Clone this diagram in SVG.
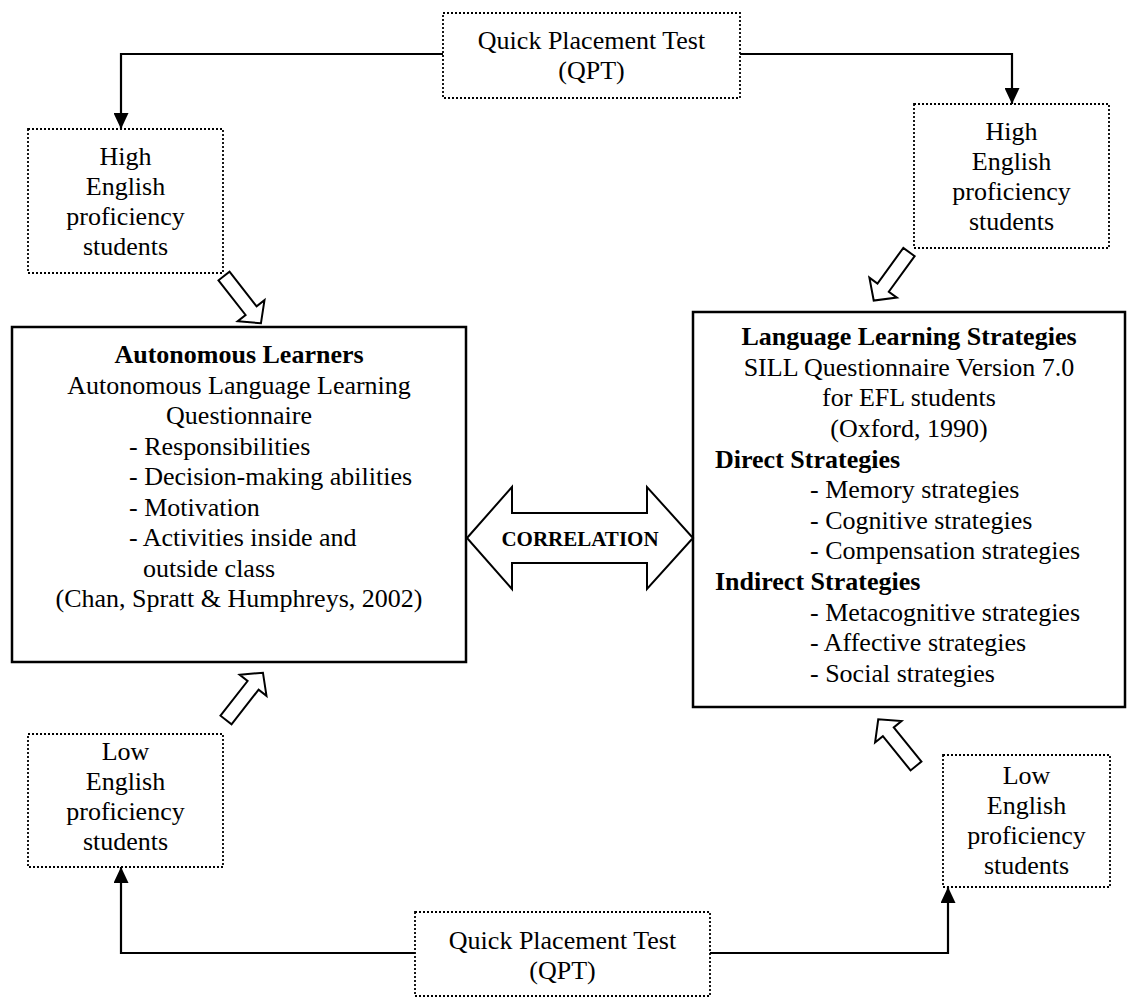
<svg xmlns="http://www.w3.org/2000/svg" width="1127" height="998" viewBox="0 0 1127 998">
<defs>
<style>
text{font-family:"Liberation Serif","Times New Roman",serif;font-size:26px;fill:#000}
.c{text-anchor:middle}
.b{font-weight:bold}
.dot{fill:#fff;stroke:#000;stroke-width:1.8;stroke-dasharray:2 2}
.main{fill:#fff;stroke:#000;stroke-width:2.5}
.conn{fill:none;stroke:#000;stroke-width:2.2}
.blk{fill:#fff;stroke:#000;stroke-width:2;stroke-linejoin:miter}
</style>
<marker id="ah" markerUnits="userSpaceOnUse" markerWidth="16" markerHeight="15" refX="16" refY="7.5" orient="auto">
<path d="M0,0 L16,7.5 L0,15 z" fill="#000"/>
</marker>
<polygon id="barrow" points="0,-7 44,-7 44,-17 60,0 44,17 44,7 0,7"/>
</defs>
<rect width="1127" height="998" fill="#fff"/>

<g id="connectors">
<path class="conn" d="M443,54 H121 V129" marker-end="url(#ah)"/>
<path class="conn" d="M740,54 H1012 V104" marker-end="url(#ah)"/>
<path class="conn" d="M415,953 H121 V867" marker-end="url(#ah)"/>
<path class="conn" d="M710,953 H948 V887" marker-end="url(#ah)"/>
<use href="#barrow" class="blk" transform="translate(224,276) rotate(52)"/>
<use href="#barrow" class="blk" transform="translate(909,252) rotate(126)"/>
<use href="#barrow" class="blk" transform="translate(226,720) rotate(-52)"/>
<use href="#barrow" class="blk" transform="translate(916,766) rotate(231)"/>
</g>

<g id="qpt-top">
<rect class="dot" x="443" y="13" width="297" height="85"/>
<text class="c" x="591.5" y="49">Quick Placement Test</text>
<text class="c" x="591.5" y="79">(QPT)</text>
</g>

<g id="high-left">
<rect class="dot" x="28" y="129" width="195" height="144"/>
<text class="c" x="125.5" y="165">High</text>
<text class="c" x="125.5" y="195">English</text>
<text class="c" x="125.5" y="225">proficiency</text>
<text class="c" x="125.5" y="255">students</text>
</g>

<g id="high-right">
<rect class="dot" x="914" y="104" width="195" height="144"/>
<text class="c" x="1011.5" y="140">High</text>
<text class="c" x="1011.5" y="170">English</text>
<text class="c" x="1011.5" y="200">proficiency</text>
<text class="c" x="1011.5" y="230">students</text>
</g>

<g id="autonomous">
<rect class="main" x="12" y="327" width="454" height="335"/>
<text class="c b" x="239" y="363">Autonomous Learners</text>
<text class="c" x="239" y="393.5">Autonomous Language Learning</text>
<text class="c" x="239" y="424">Questionnaire</text>
<text x="129" y="454.5">- Responsibilities</text>
<text x="129" y="485">- Decision-making abilities</text>
<text x="129" y="515.5">- Motivation</text>
<text x="129" y="546">- Activities inside and</text>
<text x="143" y="576.5">outside class</text>
<text class="c" x="239" y="607">(Chan, Spratt &amp; Humphreys, 2002)</text>
</g>

<g id="strategies">
<rect class="main" x="693" y="312" width="432" height="395"/>
<text class="c b" x="909" y="345">Language Learning Strategies</text>
<text class="c" x="909" y="375.6">SILL Questionnaire Version 7.0</text>
<text class="c" x="909" y="406">for EFL students</text>
<text class="c" x="909" y="437">(Oxford, 1990)</text>
<text class="b" x="715" y="467.5">Direct Strategies</text>
<text x="810" y="498">- Memory strategies</text>
<text x="810" y="529">- Cognitive strategies</text>
<text x="810" y="559">- Compensation strategies</text>
<text class="b" x="715" y="590">Indirect Strategies</text>
<text x="810" y="620.5">- Metacognitive strategies</text>
<text x="810" y="651">- Affective strategies</text>
<text x="810" y="681.7">- Social strategies</text>
</g>

<g id="correlation">
<polygon class="blk" points="467,538 512,487 512,513 647,513 647,487 693,538 647,589 647,563 512,563 512,589"/>
<text class="c b" x="580" y="546" style="font-size:21px">CORRELATION</text>
</g>

<g id="low-left">
<rect class="dot" x="28" y="734" width="195" height="133"/>
<text class="c" x="125.5" y="760">Low</text>
<text class="c" x="125.5" y="790">English</text>
<text class="c" x="125.5" y="820">proficiency</text>
<text class="c" x="125.5" y="850">students</text>
</g>

<g id="low-right">
<rect class="dot" x="943" y="755" width="167" height="132"/>
<text class="c" x="1026.5" y="784">Low</text>
<text class="c" x="1026.5" y="814">English</text>
<text class="c" x="1026.5" y="844">proficiency</text>
<text class="c" x="1026.5" y="874">students</text>
</g>

<g id="qpt-bottom">
<rect class="dot" x="415" y="912" width="295" height="84"/>
<text class="c" x="562.5" y="949">Quick Placement Test</text>
<text class="c" x="562.5" y="979">(QPT)</text>
</g>
</svg>
